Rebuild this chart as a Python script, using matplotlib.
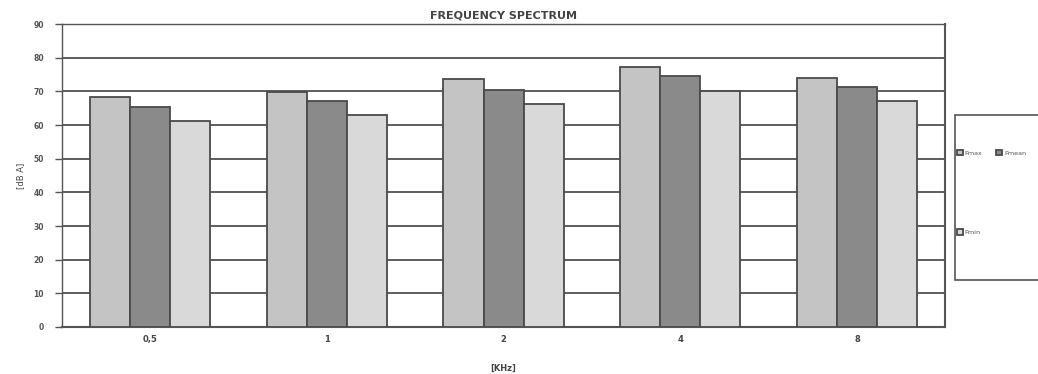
import matplotlib
matplotlib.use("Agg")
import matplotlib.pyplot as plt
from matplotlib.patches import Rectangle
import numpy as np

categories = ["0,5", "1", "2", "4", "8"]
series_names = ["Pmax", "Pmean", "Pmin"]
p_max = [68.2, 69.8, 73.6, 77.2, 74.0]
p_mean = [65.5, 67.2, 70.4, 74.6, 71.3]
p_min = [61.1, 63.1, 66.2, 70.0, 67.2]
y_ticks = [0, 10, 20, 30, 40, 50, 60, 70, 80, 90]

colors = ["#c4c4c4", "#8a8a8a", "#d9d9d9"]
edge = "#4a4a4a"

fig = plt.figure(figsize=(10.38, 3.74), dpi=100)
ax = fig.add_axes([0.0597, 0.1257, 0.851, 0.810])

x = np.arange(len(categories))
w = 0.227
handles = []
for i, (vals, name) in enumerate(zip([p_max, p_mean, p_min], series_names)):
    b = ax.bar(x + (i - 1) * w, vals, width=w, color=colors[i], edgecolor=edge,
               linewidth=1.3, label=name, zorder=3)
    handles.append(b)

ax.set_xlim(-0.5, len(categories) - 0.5)
ax.set_ylim(0, 90)
ax.set_yticks(y_ticks)
ax.set_yticklabels([str(v) for v in y_ticks], fontsize=5.5, color="#555555", fontweight="bold")
ax.set_xticks(x)
ax.set_xticklabels(categories, fontsize=6, color="#444444", fontweight="bold")
ax.tick_params(axis="x", length=0, pad=6)
ax.tick_params(axis="y", length=5, width=1, color="#555555", pad=8)
ax.yaxis.grid(True, color="#505050", linewidth=1.3, zorder=0)
ax.set_axisbelow(True)
for s in ["left", "bottom", "right", "top"]:
    ax.spines[s].set_color("#555555")
ax.spines["left"].set_linewidth(1.0)
ax.spines["bottom"].set_linewidth(1.5)
ax.spines["right"].set_linewidth(1.5)
ax.spines["top"].set_linewidth(1.0)

ax.set_title("FREQUENCY SPECTRUM", fontsize=8, fontweight="bold", color="#444444", pad=4)
ax.set_xlabel("[KHz]", fontsize=6, fontweight="bold", color="#444444", labelpad=14)
ax.set_ylabel("[dB A]", fontsize=6, color="#444444", labelpad=6)

# legend frame (extends past the right edge like the reference)
fig.patches.append(Rectangle((955 / 1038, 1 - 280 / 374), 0.2, 165 / 374,
                             transform=fig.transFigure, facecolor="white",
                             edgecolor="#555555", linewidth=1.2, zorder=1))

leg = fig.legend([handles[0], handles[2], handles[1]], ["Pmax", "Pmin", "Pmean"],
                 ncol=2, loc="upper left", bbox_to_anchor=(957 / 1038, 1 - 150 / 374),
                 fontsize=4.6, frameon=False, labelspacing=11.5,
                 handlelength=0.9, handleheight=0.9, handletextpad=0.3,
                 columnspacing=2.2, borderpad=0, borderaxespad=0)
leg.set_zorder(2)
for t in leg.get_texts():
    t.set_color("#555555")

fig.savefig("out.png", dpi=100)
